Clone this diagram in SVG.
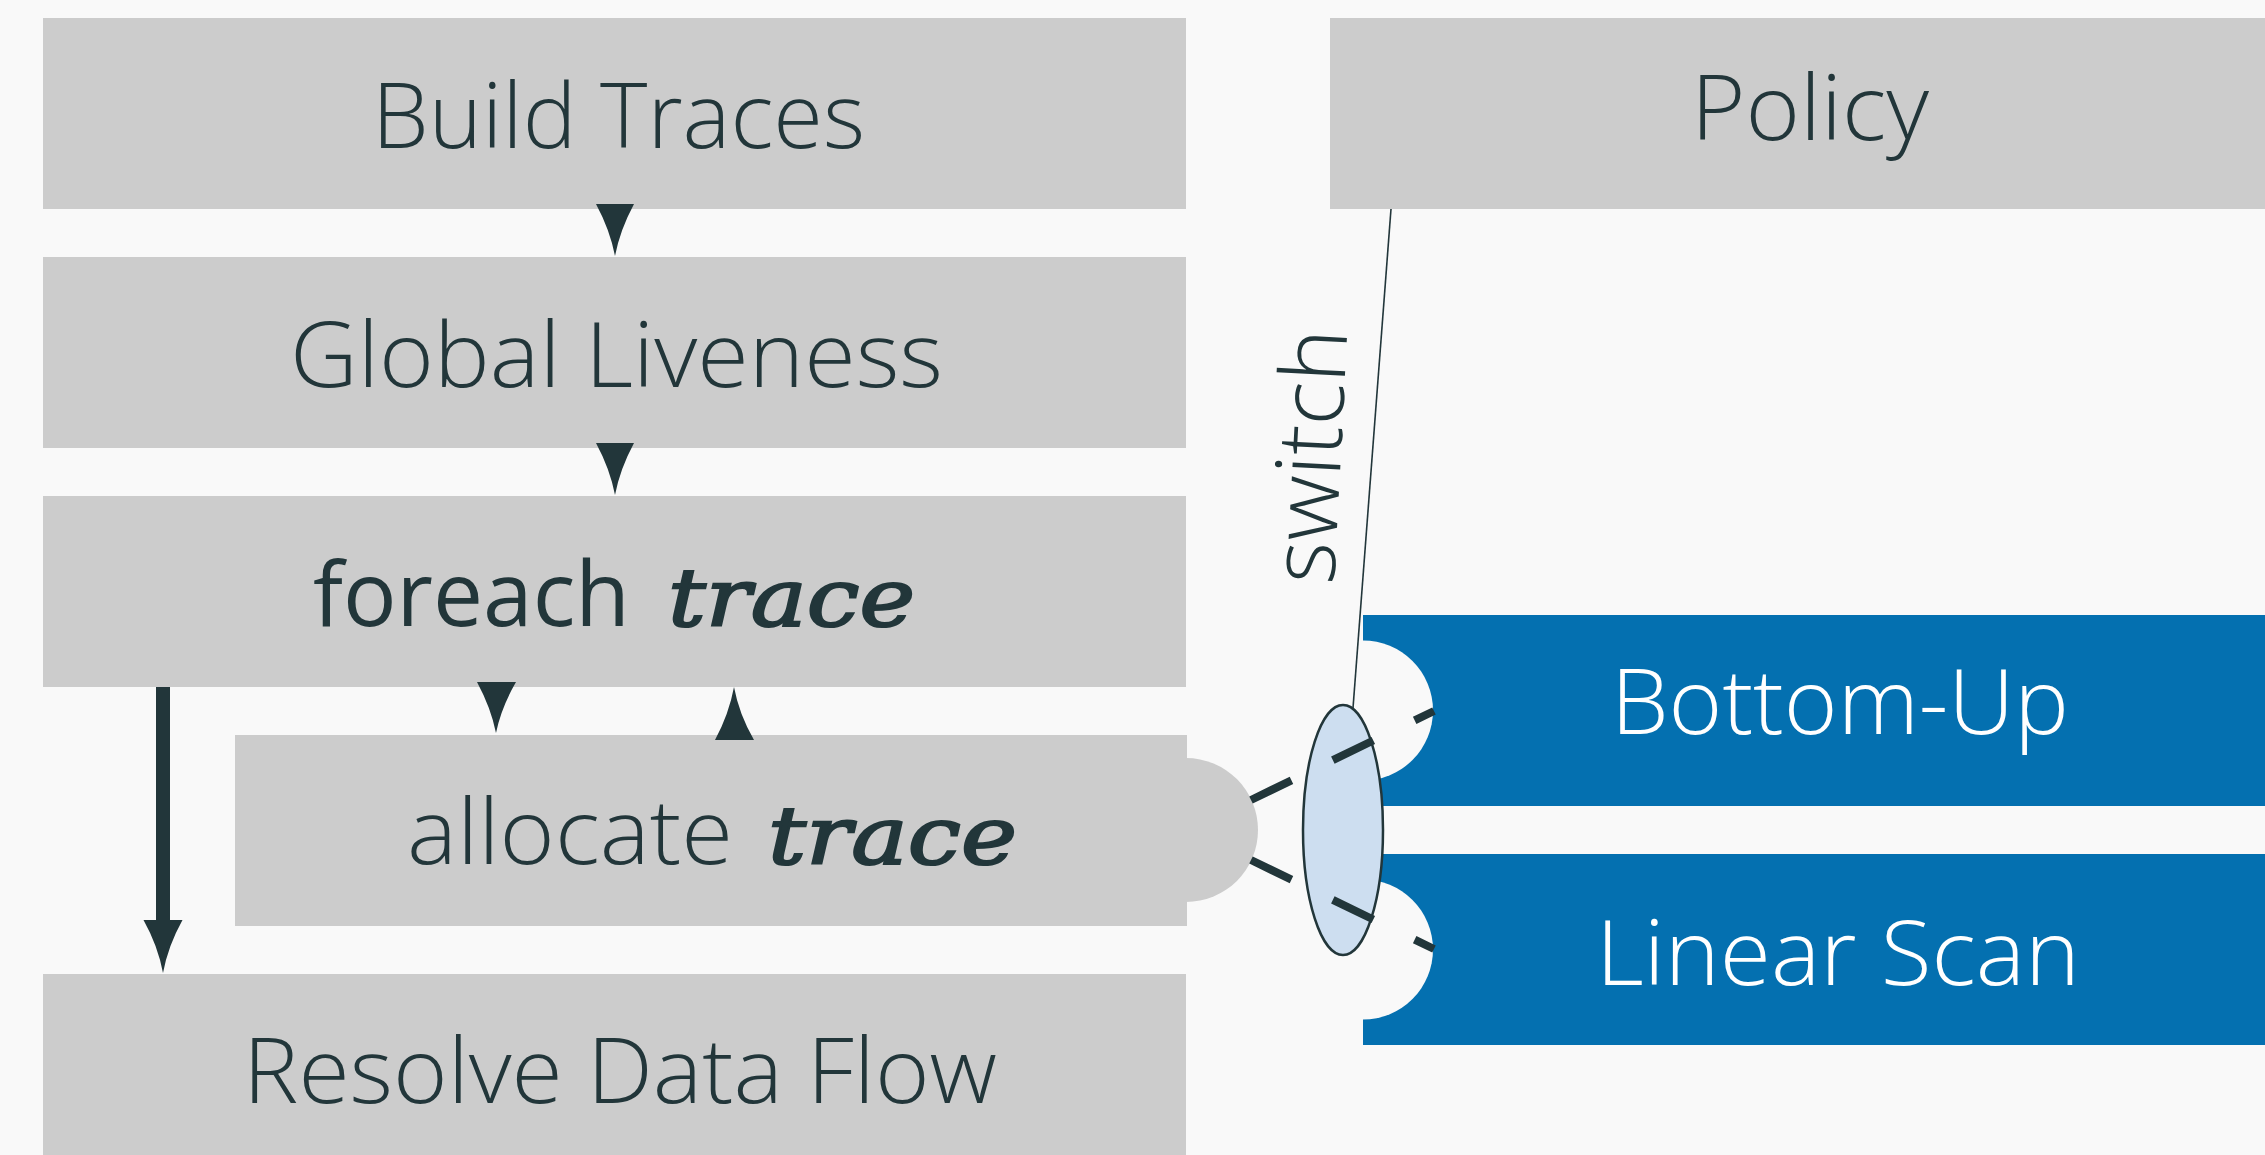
<svg xmlns="http://www.w3.org/2000/svg" width="2265" height="1155" viewBox="0 0 2265 1155">
<defs>
<style>
.box{fill:#cccccc}
.blue{fill:#0470b0}
.lbl{font-family:"Open Sans","Liberation Sans",sans-serif;font-weight:300;font-size:90px;fill:#22363a}
.lblw{font-family:"Open Sans","Liberation Sans",sans-serif;font-weight:300;font-size:90px;fill:#ffffff}
.reg{font-family:"Open Sans","Liberation Sans",sans-serif;font-weight:400;font-size:90px;fill:#22363a}
.math{font-family:"DejaVu Serif","Liberation Serif",serif;font-weight:normal;font-style:italic;font-size:80px;fill:#22363a;stroke:#22363a;stroke-width:2.2}
.head{fill:#22363a}
.dash{stroke:#22363a;stroke-width:8;fill:none;stroke-dasharray:45 46}
</style>
</defs>
<rect x="0" y="0" width="2265" height="1155" fill="#f9f9f9"/>

<g id="connectors">
  <line x1="1391" y1="209" x2="1353" y2="708" stroke="#22363a" stroke-width="1.6"/>
  <text class="lbl" transform="translate(1334,585) rotate(-87)" textLength="255" lengthAdjust="spacingAndGlyphs">switch</text>
  <rect x="156" y="686" width="14" height="240" class="head"/>
</g>

<g id="build-traces">
  <rect class="box" x="43" y="18" width="1143" height="191"/>
  <text class="lbl" x="372" y="148" textLength="493" lengthAdjust="spacingAndGlyphs">Build Traces</text>
</g>
<g id="policy">
  <rect class="box" x="1330" y="18" width="1000" height="191"/>
  <text class="lbl" x="1691" y="140" textLength="238" lengthAdjust="spacingAndGlyphs">Policy</text>
</g>
<g id="global-liveness">
  <rect class="box" x="43" y="257" width="1143" height="191"/>
  <text class="lbl" x="290" y="387" textLength="653" lengthAdjust="spacingAndGlyphs">Global Liveness</text>
</g>
<g id="foreach-trace">
  <rect class="box" x="43" y="496" width="1143" height="191"/>
  <text class="reg" x="313" y="626" textLength="317" lengthAdjust="spacingAndGlyphs">foreach</text>
  <text class="math" x="668" y="626" textLength="247" lengthAdjust="spacingAndGlyphs">trace</text>
</g>
<g id="allocate-trace">
  <rect class="box" x="235" y="735" width="952" height="191"/>
  <path class="box" d="M1186,758 A72,72 0 0 1 1186,902 Z"/>
  <text class="lbl" x="407" y="864" textLength="326" lengthAdjust="spacingAndGlyphs">allocate</text>
  <text class="math" x="768" y="864" textLength="249" lengthAdjust="spacingAndGlyphs">trace</text>
</g>
<g id="resolve-data-flow">
  <rect class="box" x="43" y="974" width="1143" height="200"/>
  <text class="lbl" x="243" y="1103" textLength="754" lengthAdjust="spacingAndGlyphs">Resolve Data Flow</text>
</g>
<g id="bottom-up">
  <rect class="blue" x="1363" y="615" width="1000" height="191"/>
  <path fill="#f9f9f9" d="M1363,640.5 A70,70 0 0 1 1363,780.5 Z"/>
  <text class="lblw" x="1611" y="734" textLength="458" lengthAdjust="spacingAndGlyphs">Bottom-Up</text>
</g>
<g id="linear-scan">
  <rect class="blue" x="1363" y="854" width="1000" height="191"/>
  <path fill="#f9f9f9" d="M1363,879.5 A70,70 0 0 1 1363,1019.5 Z"/>
  <text class="lblw" x="1596" y="985" textLength="484" lengthAdjust="spacingAndGlyphs">Linear Scan</text>
</g>
<g id="switch">
  <ellipse cx="1343" cy="830" rx="40" ry="125" fill="#cddef0" stroke="#22363a" stroke-width="2.5"/>
</g>

<g id="connector-heads">
  <path class="head" d="M596,204 L634,204 Q620,230 615,256 Q610,230 596,204 Z"/>
  <path class="head" d="M596,443 L634,443 Q620,469 615,495 Q610,469 596,443 Z"/>
  <path class="head" d="M477,682 L516,682 Q501,708 496,733 Q491,708 477,682 Z"/>
  <path class="head" d="M715,740 L754,740 Q739,714 734,687 Q729,714 715,740 Z"/>
  <path class="head" d="M143.5,920 L182.5,920 Q168,946 163,973 Q158,946 143.5,920 Z"/>
  <line class="dash" x1="1251" y1="800" x2="1434" y2="711"/>
  <line class="dash" x1="1251" y1="860" x2="1434" y2="949"/>
</g>
</svg>
